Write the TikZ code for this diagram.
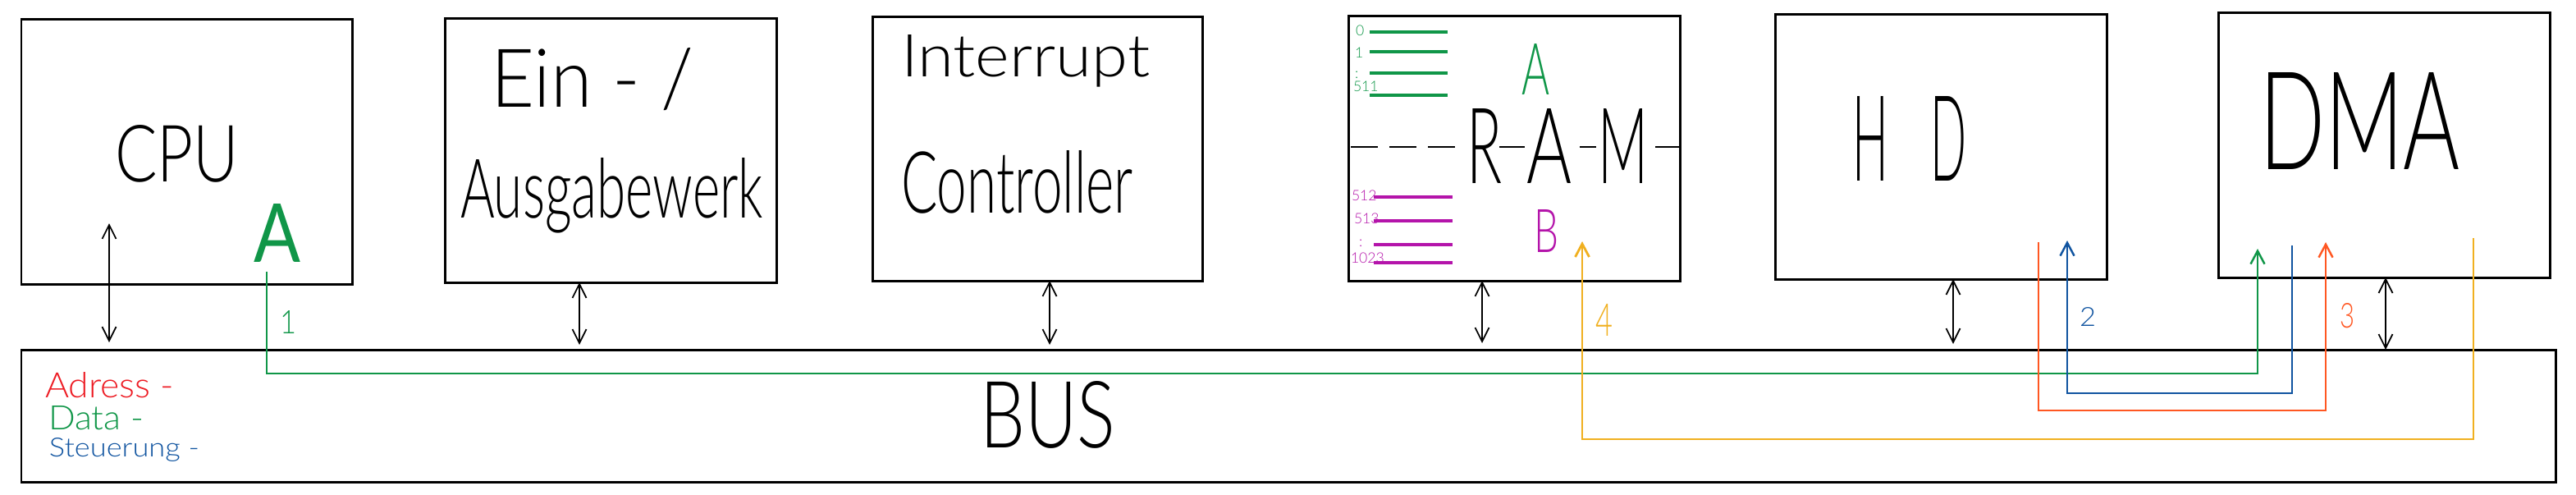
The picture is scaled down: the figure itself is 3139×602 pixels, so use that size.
\documentclass[tikz,border=0pt]{standalone}
\usepackage{fontspec}
\usepackage{graphicx}
\IfFontExistsTF{Lato Light}{\newfontfamily\hand{Lato Light}}{\newfontfamily\hand{Lato}}
\newfontfamily\latoreg{Lato}
\usetikzlibrary{arrows.meta,fit}
\definecolor{hgreen}{RGB}{16,150,72}
\definecolor{hred}{RGB}{237,28,36}
\definecolor{horange}{RGB}{255,87,34}
\definecolor{hblue}{RGB}{16,84,160}
\definecolor{hgold}{RGB}{240,176,32}
\definecolor{hmag}{RGB}{180,20,170}
\newlength\px
\setlength\px{0.01cm}
\newcommand\hw[3]{\resizebox{#1\px}{#2\px}{\hand #3}}
\begin{document}
\begin{tikzpicture}[x=0.01cm,y=-0.01cm,
  box/.style={draw=black,line width=0.85pt,inner sep=0,outer sep=0},
  txt/.style={inner sep=0,outer sep=0,anchor=base west},
  bi/.style={line width=0.5pt,{Straight Barb[length=1.7mm,width=1.7mm]}-{Straight Barb[length=1.7mm,width=1.7mm]}},
  flow/.style={line width=0.7pt,-{Straight Barb[length=1.6mm,width=1.7mm]}},
  cell/.style={line width=0.9pt},
  small/.style={inner sep=0,outer sep=0,anchor=base west,font=\hand\fontsize{5}{6}\selectfont}
]
\useasboundingbox (0,0) rectangle (3139,602);
% boxes
\node[box,fit={(26,23)(429,346)}] (cpu) {};
\node[box,fit={(542,22)(946,344)}] (io) {};
\node[box,fit={(1063,20)(1465,342)}] (irq) {};
\node[box,fit={(1643,19)(2047,342)}] (ram) {};
\node[box,fit={(2163,17)(2567,340)}] (hd) {};
\node[box,fit={(2703,15)(3107,338)}] (dma) {};
\node[box,fit={(26,426)(3114,587)}] (bus) {};
% texts
\node[txt] (tcpu) at (140,221) {\hw{151}{69}{CPU}};
\node[txt,text=hgreen] (tcpuA) at (309,319) {\resizebox{57\px}{71\px}{\latoreg A}};
\node[txt] (tio1) at (598,130) {\hw{247}{72}{Ein - /}};
\node[txt] (tio2) at (561,265) {\hw{369}{73}{Ausgabewerk}};
\node[txt] (tirq1) at (1098,93) {\hw{303}{51}{Interrupt}};
\node[txt] (tirq2) at (1098,259) {\hw{283}{76}{Controller}};
\node[txt] (thd) at (2257,220) {\hw{140}{103}{H\hspace{0.9em}D}};
\node[txt] (tdma) at (2753,206) {\hw{245}{118}{DMA}};
\node[txt] (tbus) at (1194,545) {\hw{165}{81}{BUS}};
% legend
\node[txt,text=hred] (lgA) at (55,484) {\hw{157}{31}{Adress -}};
\node[txt,text=hgreen] (lgD) at (59,523) {\hw{116}{29}{Data -}};
\node[txt,text=hblue] (lgS) at (60,556) {\hw{183}{23}{Steuerung -}};
% RAM interior
\draw[line width=0.6pt,dash pattern=on 0.33cm off 0.14cm] (1646,179) -- (1773,179);
\draw[line width=0.6pt] (1827,179) -- (1858,179) (1925,179) -- (1945,179) (2017,179) -- (2047,179);
\node[txt] (tR) at (1787,223) {\hw{43}{91}{R}};
\node[txt] (tA) at (1860,223) {\hw{55}{91}{A}};
\node[txt] (tM) at (1947,223) {\hw{61}{91}{M}};
\node[txt,text=hgreen] (ramA) at (1854,115) {\hw{34}{62}{A}};
\node[txt,text=hmag] (ramB) at (1869,307) {\hw{30}{52}{B}};
\draw[cell,hgreen] (1669,39) -- (1764,39) (1669,63) -- (1764,63) (1669,89) -- (1764,89) (1669,116) -- (1764,116);
\node[small,text=hgreen] (c0) at (1652,43) {0};
\node[small,text=hgreen] (c1) at (1651,70) {1};
\node[small,text=hgreen] (c2) at (1651,95) {:};
\node[small,text=hgreen] (c511) at (1649,111) {511};
\draw[cell,hmag] (1674,240) -- (1770,240) (1674,269) -- (1770,269) (1674,298) -- (1770,298) (1674,320) -- (1770,320);
\node[small,text=hmag] (c512) at (1647,244) {512};
\node[small,text=hmag] (c513) at (1650,272) {513};
\node[small,text=hmag] (c514) at (1656,300) {:};
\node[small,text=hmag] (c1023) at (1646,320) {1023};
% bus connections
\coordinate (cpuX) at (133,272);
\coordinate (ioX) at (706,0);
\coordinate (irqX) at (1279,0);
\coordinate (ramX) at (1806,0);
\coordinate (hdX) at (2380,0);
\coordinate (dmaX) at (2907,0);
\draw[bi,shorten >=0.9mm] (cpuX) -- (cpuX |- bus.north);
\draw[bi,shorten >=0.6mm] (ioX |- io.south) -- (ioX |- bus.north);
\draw[bi,shorten >=0.6mm] (irqX |- irq.south) -- (irqX |- bus.north);
\draw[bi,shorten >=0.8mm] (ramX |- ram.south) -- (ramX |- bus.north);
\draw[bi,shorten >=0.7mm] (hdX |- hd.south) -- (hdX |- bus.north);
\draw[bi] (dmaX |- dma.south) -- (dmaX |- bus.north);
% flows
\coordinate (gS) at (325,331);
\coordinate (gE) at (2751,303);
\coordinate (gL) at (0,455);
\draw[flow,draw=hgreen] (gS) -- (gS |- gL) -- (gE |- gL) -- (gE);
\coordinate (bS) at (2793,299);
\coordinate (bE) at (2519,293);
\coordinate (bL) at (0,479);
\draw[flow,draw=hblue] (bS) -- (bS |- bL) -- (bE |- bL) -- (bE);
\coordinate (rS) at (2484,295);
\coordinate (rE) at (2834,295);
\coordinate (rL) at (0,500);
\draw[flow,draw=horange] (rS) -- (rS |- rL) -- (rE |- rL) -- (rE);
\coordinate (yS) at (3014,290);
\coordinate (yE) at (1928,294);
\coordinate (yL) at (0,535);
\draw[flow,draw=hgold,line width=0.8pt] (yS) -- (yS |- yL) -- (yE |- yL) -- (yE);
% step numbers
\node[txt,text=hgreen] (n1) at (341,406) {\hw{20}{28}{1}};
\node[txt,text=hblue] (n2) at (2534,397) {\hw{20}{23}{2}};
\node[txt,text=horange] (n3) at (2851,399) {\hw{18}{30}{3}};
\node[txt,text=hgold] (n4) at (1944,409) {\hw{21}{39}{4}};
\end{tikzpicture}
\end{document}
